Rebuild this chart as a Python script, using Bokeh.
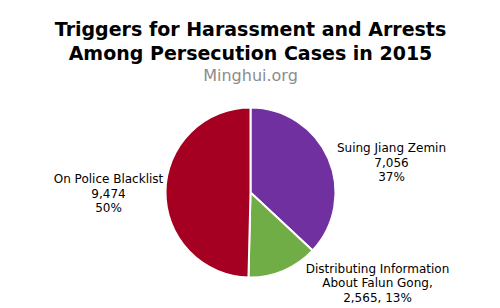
import math
from bokeh.plotting import figure
from bokeh.models import ColumnDataSource, Range1d
from bokeh.core.properties import value
from bokeh.embed import file_html
from bokeh.resources import INLINE

# ---- data ----
categories = ["Suing Jiang Zemin", "Distributing Information About Falun Gong", "On Police Blacklist"]
counts = [7056, 2565, 9474]
percents = ["37%", "13%", "50%"]
title_lines = ["Triggers for Harassment and Arrests", "Among Persecution Cases in 2015"]
subtitle = "Minghui.org"

# ---- style / layout ----
colors = ["#7030A0", "#70AD47", "#A50021"]
W, H = 500, 308
cx, cy, r = 250, H - 192, 85
FONT = "DejaVu Sans"

p = figure(width=W, height=H, output_backend="svg", toolbar_location=None,
           x_range=Range1d(0, W), y_range=Range1d(0, H), min_border=0,
           outline_line_color=None, background_fill_color="white")
p.axis.visible = False
p.grid.visible = False

total = sum(counts)
starts, ends = [], []
acc = 0.0
for c in counts:
    starts.append(math.pi / 2 - 2 * math.pi * acc)
    acc += c / total
    ends.append(math.pi / 2 - 2 * math.pi * acc)

src = ColumnDataSource(dict(x=[cx] * 3, y=[cy] * 3, start=starts, end=ends, color=colors))
p.wedge(x="x", y="y", radius=r, start_angle="start", end_angle="end",
        direction="clock", fill_color="color", line_color="white", line_width=2,
        source=src)

def Y(py):
    return H - py

# titles
p.text(x=[W / 2] * 2, y=[Y(28), Y(52)], text=title_lines, text_font=value(FONT),
       text_font_style="bold", text_font_size="19px", text_align="center",
       text_baseline="alphabetic", text_color="black")
p.text(x=[W / 2], y=[Y(75)], text=[subtitle], text_font=value(FONT),
       text_font_size="16px", text_align="center", text_baseline="alphabetic",
       text_color="#8c8c8c")

# slice labels
label_lines = [
    [categories[0], f"{counts[0]:,}", percents[0]],
    ["Distributing Information", "About Falun Gong,", f"{counts[1]:,}, {percents[1]}"],
    [categories[2], f"{counts[2]:,}", percents[2]],
]
label_pos = [(391, 147), (377, 268), (108, 178)]
lx, ly, lt = [], [], []
for lines, (x0, y0) in zip(label_lines, label_pos):
    for i, t in enumerate(lines):
        lx.append(x0)
        ly.append(Y(y0 + i * 14.5))
        lt.append(t)
p.text(x=lx, y=ly, text=lt, text_font=value(FONT), text_font_size="12px",
       text_align="center", text_baseline="alphabetic", text_color="black")

open("out.html", "w").write(file_html(p, INLINE))
